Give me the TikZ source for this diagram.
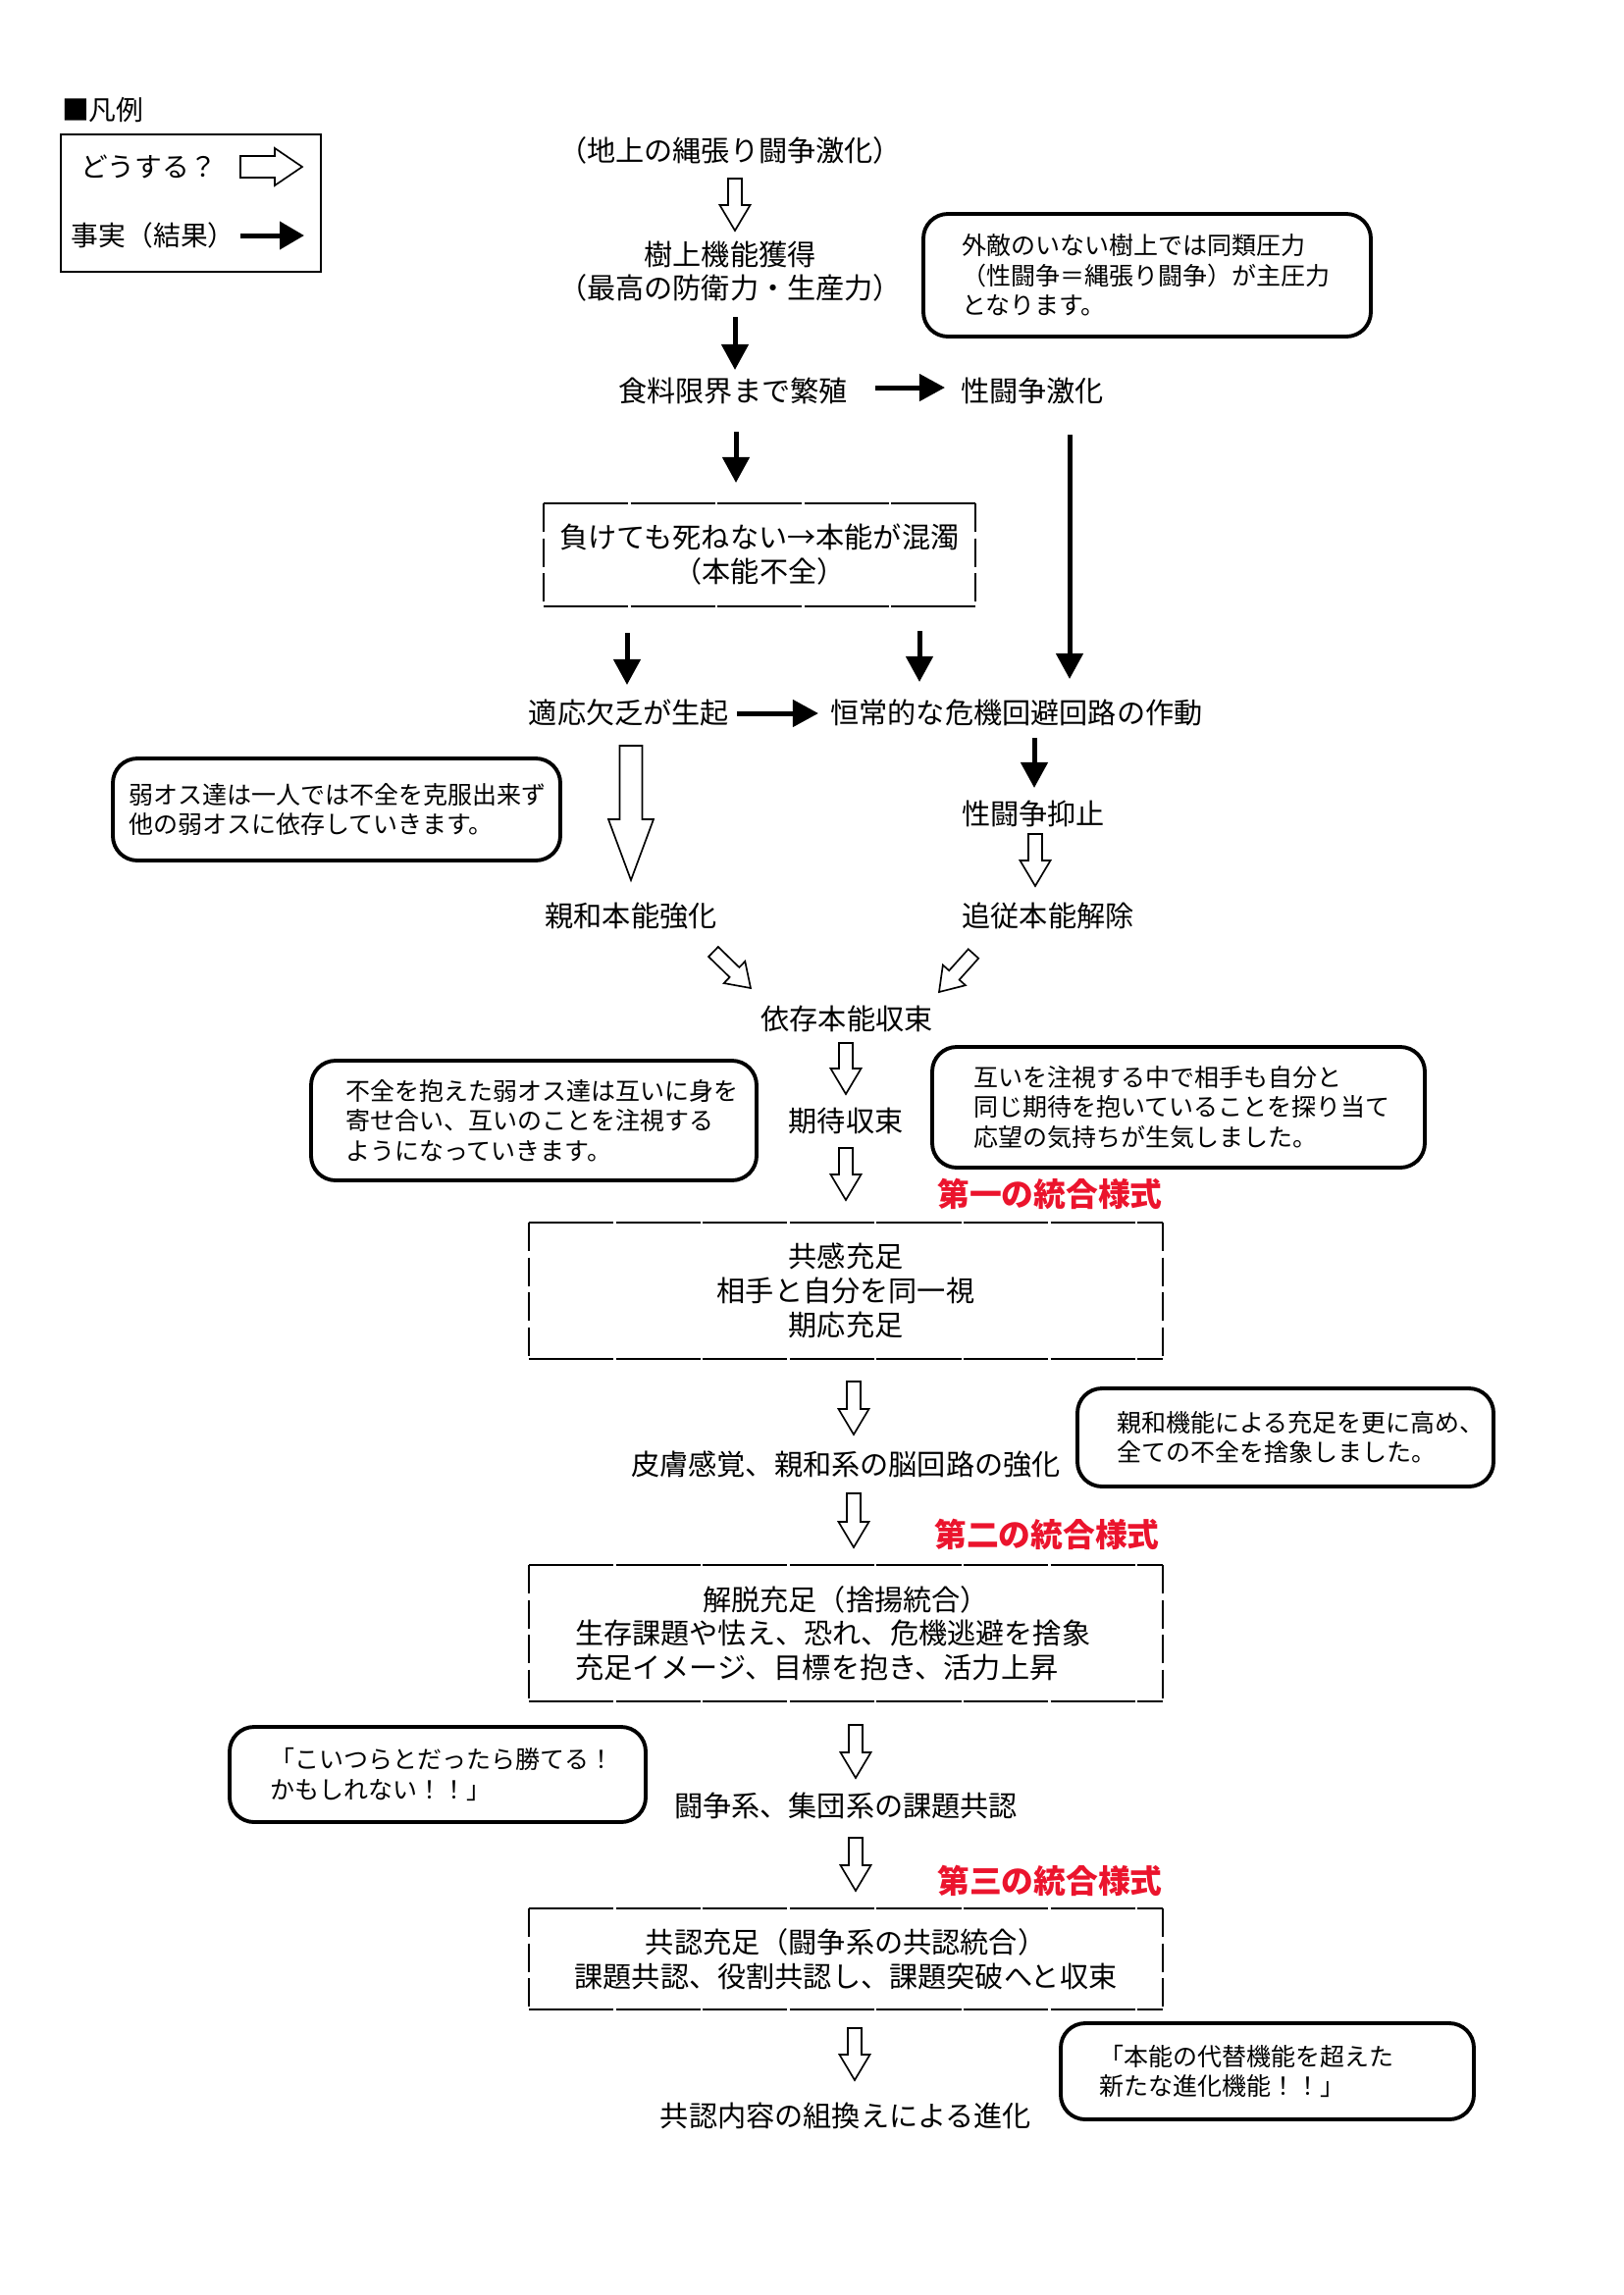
\documentclass[tikz,border=0pt]{standalone}
\usepackage{fontspec}
\setmainfont{Noto Sans CJK JP}
\usetikzlibrary{calc,arrows.meta}
\setlength\parindent{0pt}
\setlength\parskip{0pt}
\definecolor{labred}{RGB}{235,20,45}
\newcommand\basw{2.52pt}
\newcommand\bahw{5.58pt}
\newcommand\bahl{9.36pt}
% hollow block arrow: #1 start node, #2 offset, #3 end node, #4 offset
\newcommand\blockarrow[4]{%
  \coordinate (ba-s) at ($(#1)+(#2)$);
  \coordinate (ba-t) at ($(#3)+(#4)$);
  \coordinate (ba-h) at ($(ba-t)!\bahl!(ba-s)$);
  \draw[hollowarrow] ($(ba-s)!\basw!90:(ba-t)$) -- ($(ba-h)!\basw!-90:(ba-s)$) -- ($(ba-h)!\bahw!-90:(ba-s)$) -- (ba-t) -- ($(ba-h)!\bahw!90:(ba-s)$) -- ($(ba-h)!\basw!90:(ba-s)$) -- ($(ba-s)!\basw!-90:(ba-t)$) -- cycle;
}
\newcommand\dashedborder[1]{%
  \draw[hdash] (#1.north west) -- (#1.north east);
  \draw[hdash] (#1.south west) -- (#1.south east);
  \draw[vdash] (#1.north west) -- (#1.south west);
  \draw[vdash] (#1.north east) -- (#1.south east);
}
\begin{document}
\begin{tikzpicture}[x=0.36pt,y=-0.36pt,
  every node/.style={inner sep=0pt,outer sep=0pt},
  main/.style={font=\fontsize{10.5}{12.5}\selectfont,align=center},
  legtext/.style={font=\fontsize{10}{12}\selectfont,anchor=west},
  note/.style={font=\fontsize{9}{11}\selectfont,align=left,draw,line width=1.4pt,rounded corners=9pt},
  dbox/.style={font=\fontsize{10.5}{12.6}\selectfont,align=center},
  hdash/.style={line width=1pt,dash pattern=on 31pt off 0.9pt},
  vdash/.style={line width=1pt,dash pattern=on 10.5pt off 2.3pt},
  farrow/.style={line width=1.8pt,-{Triangle[length=9.4pt,width=9.7pt]}},
  hollowarrow/.style={draw,line width=0.6pt,fill=white,line join=miter},
  redlab/.style={font=\fontsize{11.8}{14}\selectfont\bfseries,text=labred},
]
\fill[white] (0,0) rectangle (1654,2339);
\useasboundingbox (0,0) rectangle (1654,2339);

% legend
\node[legtext] (legtitle) at (63,112) {■凡例};
\node[draw,line width=1pt,minimum width=95.4pt,minimum height=50.4pt] (legbox) at (194.5,207) {};
\node[legtext] (leghow) at (82,170) {どうする？};
\node[legtext] (legfact) at (73,240) {事実（結果）};
{\def\basw{3.96pt}\def\bahw{6.84pt}\def\bahl{10.08pt}\blockarrow{legbox}{50.5,-37}{legbox}{113.5,-37}}
\draw[farrow,-{Triangle[length=9pt,width=10pt]}] ($(legbox)+(50.5,33)$) -- ($(legbox)+(115.5,33)$);

% main flow nodes
\node[main] (n1) at (744,153) {（地上の縄張り闘争激化）};
\node[main] (n2) at (744,276.5) {樹上機能獲得\\（最高の防衛力・生産力）};
\node[main] (n3) at (747,398) {食料限界まで繁殖};
\node[main] (n4) at (1052,398) {性闘争激化};
\node[dbox,minimum width=158.4pt,minimum height=37.8pt] (box1) at (774,565.5) {負けても死ねない→本能が混濁\\（本能不全）};
\node[main] (n5) at (641,726) {適応欠乏が生起};
\node[main] (n6) at (1036,726) {恒常的な危機回避回路の作動};
\node[main] (n7) at (1053,829) {性闘争抑止};
\node[main] (n8) at (1068,933) {追従本能解除};
\node[main] (n9) at (643,933) {親和本能強化};
\node[main] (n10) at (863,1038) {依存本能収束};
\node[main] (n11) at (862,1142) {期待収束};
\node[redlab] (lab1) at (1070,1217) {第一の統合様式};
\node[dbox,font=\fontsize{10.5}{12.7}\selectfont,minimum width=232.56pt,minimum height=50.04pt] (box2) at (862,1315.5) {共感充足\\相手と自分を同一視\\期応充足};
\node[main] (n12) at (862,1492) {皮膚感覚、親和系の脳回路の強化};
\node[redlab] (lab2) at (1067,1564) {第二の統合様式};
\node[dbox,font=\fontsize{10.5}{12.4}\selectfont,align=left,text width=198.72pt,minimum width=232.56pt,minimum height=50.04pt] (box3) at (862,1664.5) {{\centering 解脱充足（捨揚統合）\par}生存課題や怯え、恐れ、危機逃避を捨象\\充足イメージ、目標を抱き、活力上昇};
\node[main] (n13) at (862,1840) {闘争系、集団系の課題共認};
\node[redlab] (lab3) at (1070,1917) {第三の統合様式};
\node[dbox,minimum width=232.56pt,minimum height=37.08pt] (box4) at (862,1996.5) {共認充足（闘争系の共認統合）\\課題共認、役割共認し、課題突破へと収束};
\node[main] (n14) at (862,2156) {共認内容の組換えによる進化};

\dashedborder{box1}
\dashedborder{box2}
\dashedborder{box3}
\dashedborder{box4}

% callouts
\node[note,text width=136.08pt,inner xsep=14.04pt,minimum height=45pt] (c1) at (1169,280.5) {外敵のいない樹上では同類圧力\\（性闘争＝縄張り闘争）が主圧力\\となります。};
\node[note,text width=152.64pt,inner xsep=5.76pt,minimum height=37.44pt] (c2) at (343,825) {弱オス達は一人では不全を克服出来ず\\他の弱オスに依存していきます。};
\node[note,text width=138.24pt,inner xsep=12.6pt,minimum height=43.92pt] (c3) at (544,1142) {不全を抱えた弱オス達は互いに身を\\寄せ合い、互いのことを注視する\\ようになっていきます。};
\node[note,text width=150.48pt,inner xsep=15.12pt,minimum height=44.28pt] (c4) at (1201,1128.5) {互いを注視する中で相手も自分と\\同じ期待を抱いていることを探り当て\\応望の気持ちが生気しました。};
\node[note,text width=123.84pt,inner xsep=14.4pt,minimum height=36pt] (c5) at (1310,1465) {親和機能による充足を更に高め、\\全ての不全を捨象しました。};
\node[note,text width=123.12pt,inner xsep=14.76pt,minimum height=34.92pt] (c6) at (446,1808.5) {「こいつらとだったら勝てる！\\かもしれない！！」};
\node[note,text width=123.48pt,inner xsep=14.04pt,minimum height=35.28pt] (c7) at (1291.5,2111) {「本能の代替機能を超えた\\新たな進化機能！！」};

% connectors
\blockarrow{n1}{5,29}{n2}{5,-41.5}
\draw[farrow] ($(n2)+(5,46.5)$) -- ($(n3)+(2,-21)$);
\draw[farrow] ($(n3)+(145,-3)$) -- ($(n4)+(-89,-3)$);
\draw[farrow] ($(n3)+(3,42)$) -- ($(box1)+(-24,-73.5)$);
\draw[farrow] ($(n4)+(38,45)$) -- ($(n6)+(54,-34)$);
\draw[farrow] ($(box1)+(-135,79.5)$) -- ($(n5)+(-2,-28)$);
\draw[farrow] ($(box1)+(163,77.5)$) -- ($(n6)+(-99,-31)$);
\draw[farrow] ($(n5)+(110,1)$) -- ($(n6)+(-202,1)$);
\draw[farrow] ($(n6)+(18,26)$) -- ($(n7)+(1,-26)$);
\blockarrow{n7}{2,21}{n8}{-13,-30}
{\def\basw{4.14pt}\def\bahw{8.28pt}\def\bahl{22.32pt}\blockarrow{n5}{2,34}{n9}{0,-36}}
{\def\bahl{8.3pt}\blockarrow{n9}{84,37}{n10}{-98,-31}}
{\def\bahl{8.3pt}\blockarrow{n8}{-76,39}{n10}{94,-27}}
\blockarrow{n10}{-1,25}{n11}{0,-27}
\blockarrow{n11}{0,28}{box2}{0,-92.5}
\blockarrow{box2}{8,92.5}{n12}{8,-30}
\blockarrow{n12}{8,30}{box3}{8,-87.5}
\blockarrow{box3}{10,93.5}{n13}{10,-28}
\blockarrow{n13}{10,33}{box4}{10,-69.5}
\blockarrow{box4}{9,70.5}{n14}{9,-36}
\end{tikzpicture}
\end{document}
